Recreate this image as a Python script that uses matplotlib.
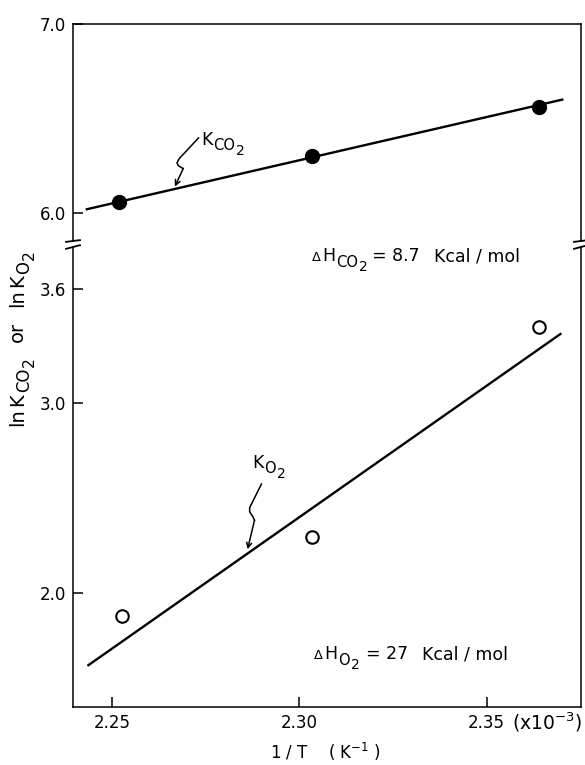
import matplotlib
matplotlib.use('Agg')
import matplotlib.pyplot as plt
import matplotlib.transforms as mtransforms
from matplotlib.font_manager import FontProperties

plt.rcParams['font.family'] = ['DejaVu Sans']
plt.rcParams['mathtext.fontset'] = 'dejavusans'

# 1/T in units of 1e-3 K^-1
X_KCO2 = [2.252, 2.3035, 2.364]
LN_KCO2 = [6.06, 6.30, 6.56]
X_KO2 = [2.2526, 2.3035, 2.364]
LN_KO2 = [1.88, 2.295, 3.40]

# least-squares lines, end points
FIT_X_KCO2 = [2.2433, 2.3702]
FIT_KCO2 = [6.02, 6.60]
FIT_X_KO2 = [2.2437, 2.3697]
FIT_KO2 = [1.62, 3.363]

X_TICKS = [2.25, 2.30, 2.35]
X_TICK_LABELS = ['2.25', '2.30', '2.35']
UPPER_TICKS = [7.0, 6.0]
LOWER_TICKS = [3.6, 3.0, 2.0]

XLIM = (2.2396, 2.3752)
UPPER_YLIM = (5.852, 7.0)
LOWER_YLIM = (1.40, 3.821)

# (text, size scale, baseline shift in em, gap after in pt)
K_CO2 = [('K', 1, 0, 0.5), ('CO', 0.85, -0.3, 0.5), ('2', 0.8, -0.55, 0)]
K_O2 = [('K', 1, 0, 0.5), ('O', 0.85, -0.3, 0.5), ('2', 0.8, -0.55, 0)]
DH_CO2 = [('Δ', 0.75, 0, 1), ('H', 1, 0, 0.5), ('CO', 0.85, -0.3, 0.5),
          ('2', 0.8, -0.55, 3), ('= 8.7', 1, 0, 10), ('Kcal / mol', 1, 0, 0)]
DH_O2 = [('Δ', 0.75, 0, 1), ('H', 1, 0, 0.5), ('O', 0.85, -0.3, 0.5),
         ('2', 0.8, -0.55, 5), ('= 27', 1, 0, 10), ('Kcal / mol', 1, 0, 0)]
Y_LABEL = [('ln', 1, 0, 1.5), ('K', 1, 0, 0.5), ('CO', 0.85, -0.3, 0.5),
           ('2', 0.8, -0.55, 11), ('or', 1, 0, 11), ('ln', 1, 0, 1.5),
           ('K', 1, 0, 0.5), ('O', 0.85, -0.3, 0.5), ('2', 0.8, -0.55, 0)]


def rich_text(fig, x, y, parts, transform, fs, rotation=0, ha='left'):
    """text with hand-placed subscripts; (x, y) is the baseline anchor"""
    renderer = fig.canvas.get_renderer()
    widths = []
    for s, sc, dy, gap in parts:
        fp = FontProperties(family='DejaVu Sans', size=fs * sc)
        w = renderer.get_text_width_height_descent(s, fp, ismath=False)[0]
        widths.append(w * 72. / fig.dpi + gap)
    total = sum(widths)
    pos = {'left': 0, 'center': -total / 2., 'right': -total}[ha]
    for (s, sc, dy, gap), w in zip(parts, widths):
        ox, oy = pos, dy * fs
        if rotation == 90:
            ox, oy = -oy, ox
        tr = mtransforms.offset_copy(transform, fig=fig, x=ox, y=oy,
                                     units='points')
        fig.text(x, y, s, transform=tr, fontsize=fs * sc, rotation=rotation,
                 rotation_mode='anchor', ha='left', va='baseline')
        pos += w


def squiggle(ax, tip, verts):
    """wavy pointer drawn in points relative to the tip (data coords)"""
    fig = ax.figure
    trans = mtransforms.Affine2D().scale(fig.dpi / 72.) + \
        mtransforms.ScaledTranslation(tip[0], tip[1], ax.transData)
    xs = [v[0] for v in verts]
    ys = [v[1] for v in verts]
    ax.plot(xs, ys, color='k', lw=1.1, transform=trans, clip_on=False)
    ax.annotate('', xy=tip, xytext=verts[-1], textcoords='offset points',
                arrowprops=dict(arrowstyle='->', color='k', lw=1.1,
                                mutation_scale=9, shrinkA=0, shrinkB=0))


def break_marks(ax, y):
    d = 7. / 509
    for x in (0, 1):
        ax.plot([x - d, x + d], [y - 0.004, y + 0.004], color='k', lw=1.3,
                transform=ax.transAxes, clip_on=False)


fig = plt.figure(figsize=(5.85, 7.65), dpi=100)
left, right = 73 / 585., 581 / 585.
ax_top = fig.add_axes([left, 1 - 241 / 765., right - left, (241 - 24) / 765.])
ax_bot = fig.add_axes([left, 1 - 707 / 765., right - left, (707 - 247) / 765.])

for ax in (ax_top, ax_bot):
    ax.set_xlim(*XLIM)
    for s in ax.spines.values():
        s.set_linewidth(1.1)
    ax.tick_params(direction='in', length=7, width=1.1, labelsize=12, pad=5)

ax_top.spines['bottom'].set_visible(False)
ax_bot.spines['top'].set_visible(False)

# upper panel: ln K_CO2
ax_top.plot(FIT_X_KCO2, FIT_KCO2, color='k', lw=1.7)
ax_top.plot(X_KCO2, LN_KCO2, 'o', color='k', ms=10)
ax_top.set_ylim(*UPPER_YLIM)
ax_top.set_yticks(UPPER_TICKS)
ax_top.set_yticklabels(['7.0', '6.0'])
ax_top.set_xticks([])
squiggle(ax_top, (2.2668, 6.14),
         [(17, 35), (3, 20), (1.5, 17), (2.5, 15), (5, 13.5), (6, 13)])

# lower panel: ln K_O2
ax_bot.plot(FIT_X_KO2, FIT_KO2, color='k', lw=1.7)
ax_bot.plot(X_KO2, LN_KO2, 'o', mfc='white', mec='k', mew=1.5, ms=9)
ax_bot.set_ylim(*LOWER_YLIM)
ax_bot.set_yticks(LOWER_TICKS)
ax_bot.set_yticklabels(['3.6', '3.0', '2.0'])
ax_bot.set_xticks(X_TICKS)
ax_bot.set_xticklabels(X_TICK_LABELS)
squiggle(ax_bot, (2.2862, 2.23),
         [(10, 47), (1.5, 30), (1.5, 27), (3.5, 24), (5, 21)])

break_marks(ax_top, 0)
break_marks(ax_bot, 1)

# labels with subscripts
rich_text(fig, 2.2739, 6.36, K_CO2, ax_top.transData, 12.5)
rich_text(fig, 2.2875, 2.657, K_O2, ax_bot.transData, 12.5)
rich_text(fig, 2.3035, 3.745, DH_CO2, ax_bot.transData, 12.5)
rich_text(fig, 2.304, 1.65, DH_O2, ax_bot.transData, 12.5)
rich_text(fig, 23 / 585., 1 - 338 / 765., Y_LABEL, fig.transFigure, 14,
          rotation=90, ha='center')

fig.text(325 / 585., 1 - 752 / 765., r'1 / T    ( K$^{-1}$ )',
         fontsize=12, ha='center', va='center')
fig.text(582 / 585., 1 - 722 / 765., r'(x10$^{-3}$)',
         fontsize=13.5, ha='right', va='center')

fig.savefig('out.png', dpi=100)
